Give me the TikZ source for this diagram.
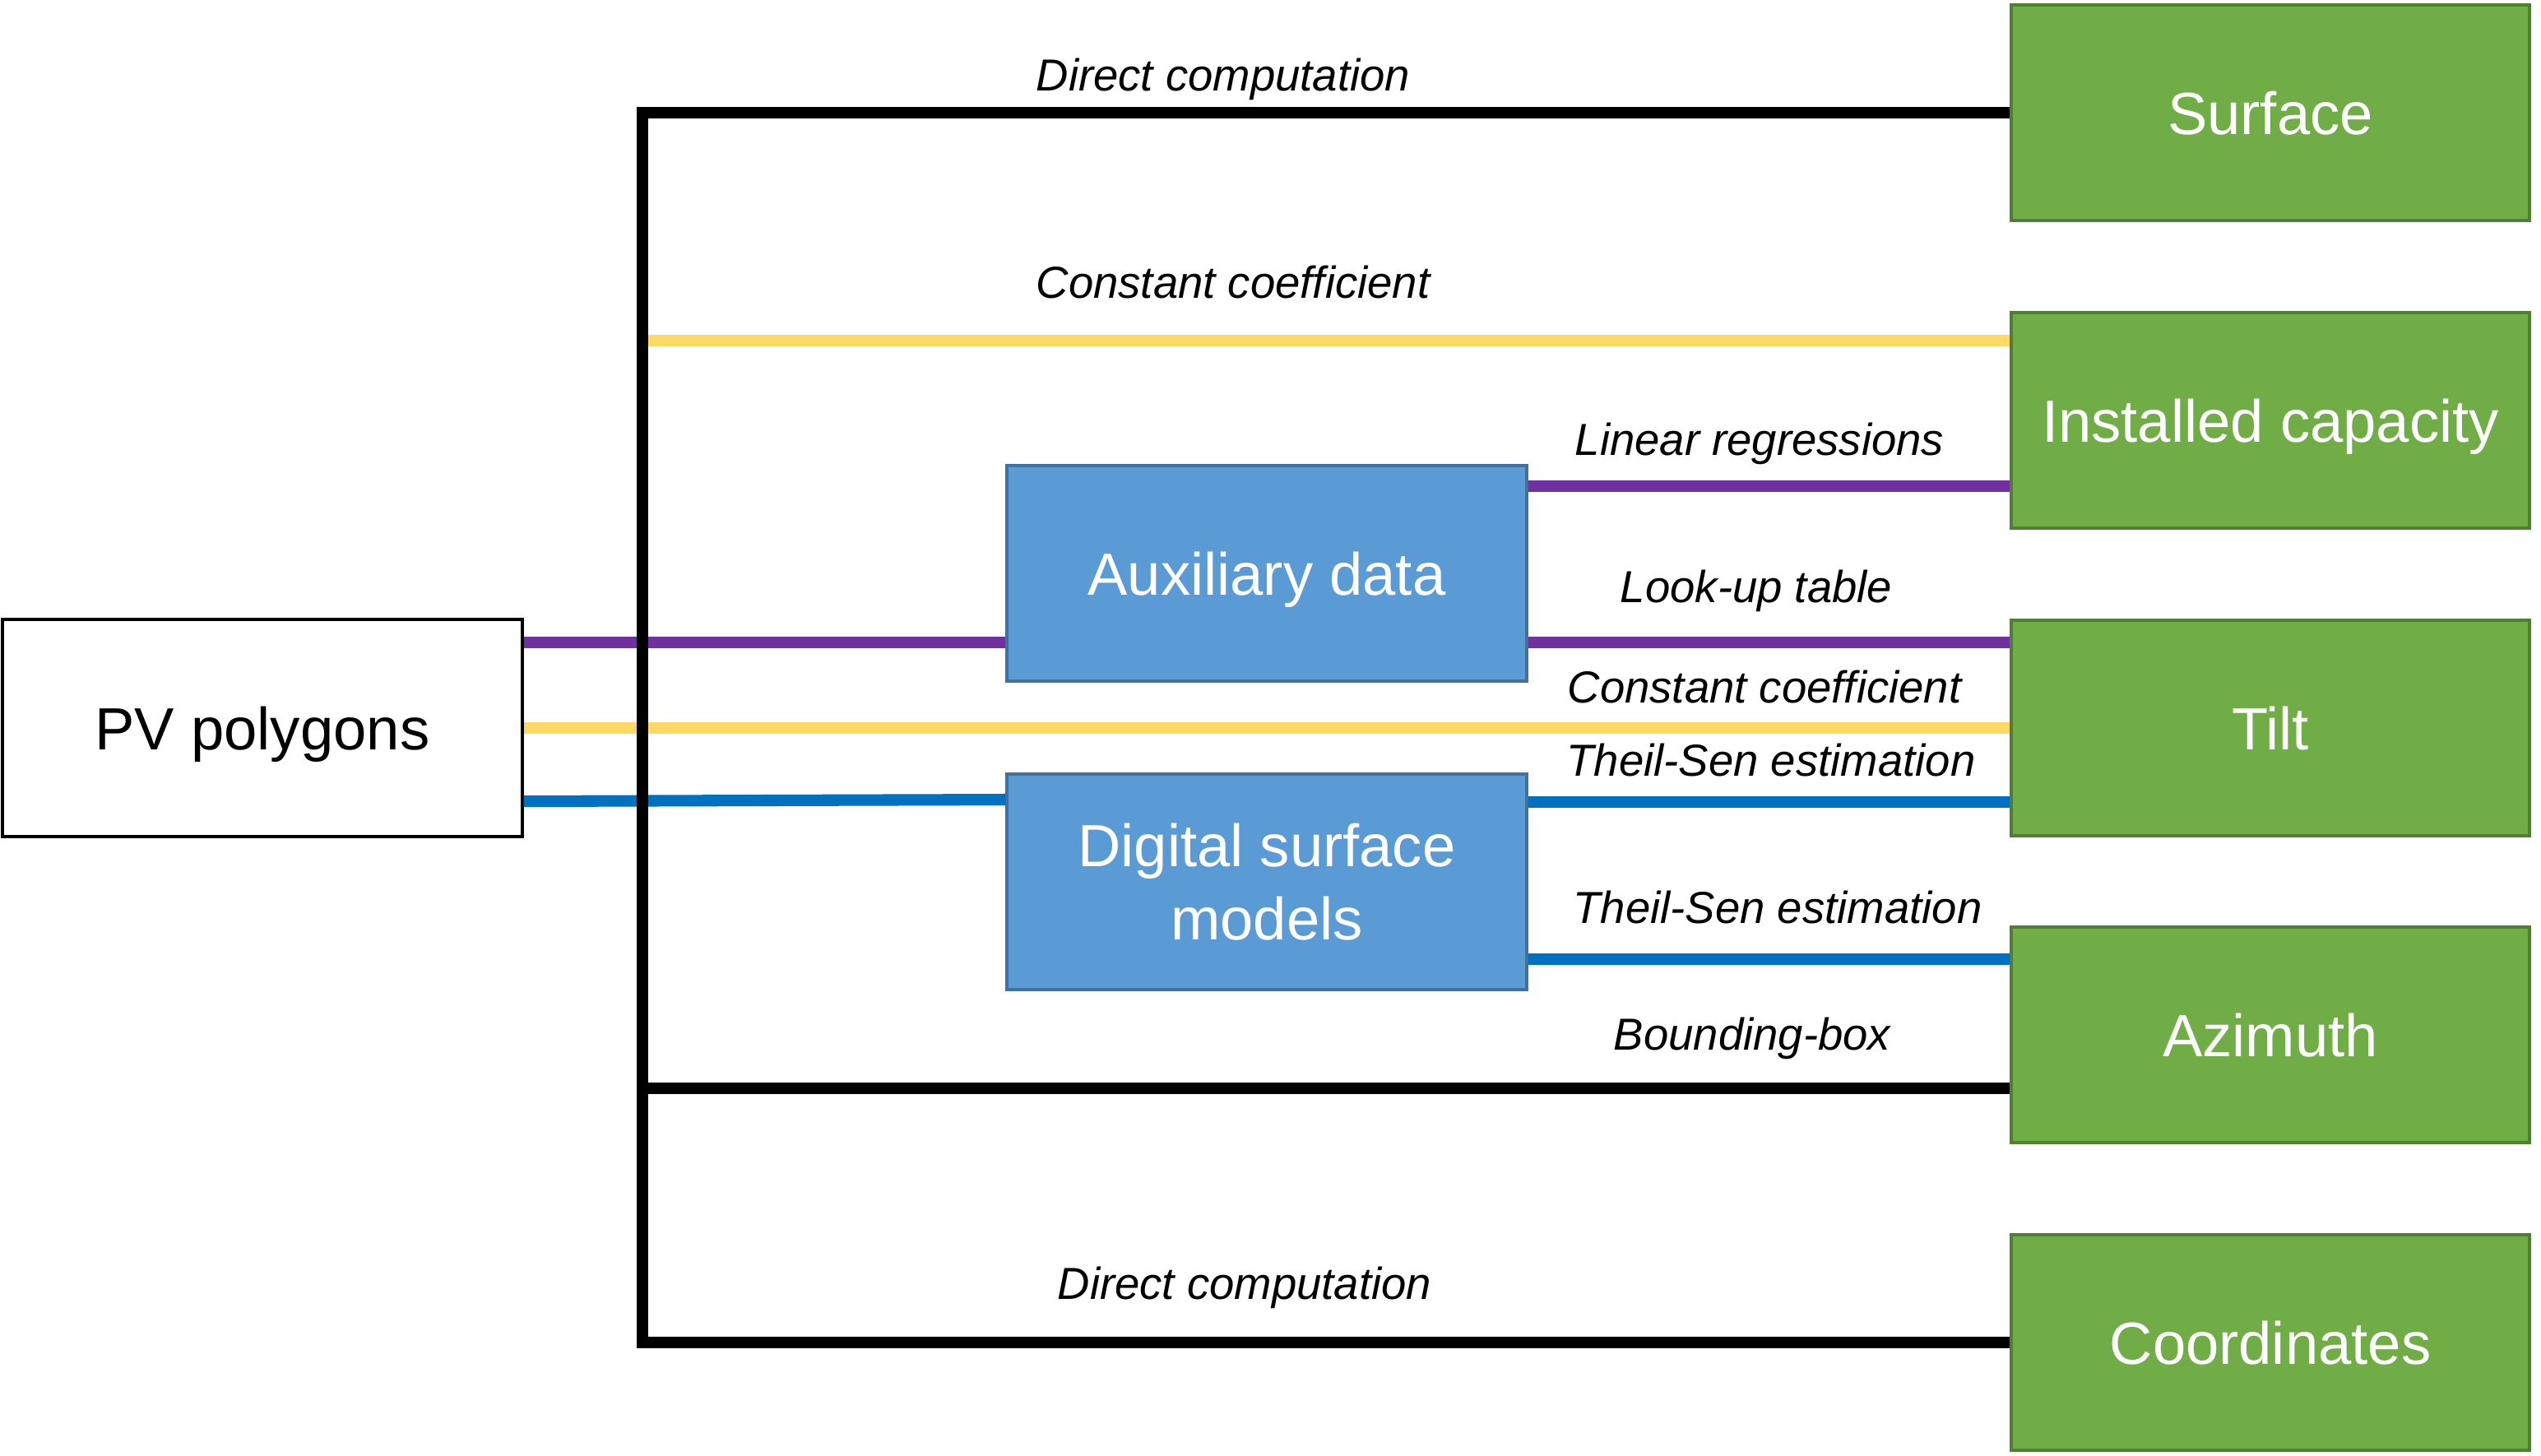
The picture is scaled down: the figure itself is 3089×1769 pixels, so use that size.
\documentclass[tikz,border=0pt]{standalone}
\usepackage{fontspec}
\setmainfont{Liberation Sans}
\definecolor{gfill}{HTML}{70AD47}
\definecolor{gdraw}{HTML}{507E32}
\definecolor{bfill}{HTML}{5B9BD5}
\definecolor{bdraw}{HTML}{41719C}
\definecolor{lpurple}{HTML}{7030A0}
\definecolor{lyellow}{HTML}{FFD966}
\definecolor{lblue}{HTML}{0070C0}
\tikzset{
  greenbox/.style={draw=gdraw, fill=gfill, line width=1.1pt, minimum width=6.3cm, minimum height=2.62cm, inner sep=0pt, text=white, text height=14.8pt, text depth=0pt, font=\fontsize{20.6}{24}\selectfont},
  bluebox/.style={draw=bdraw, fill=bfill, line width=1.1pt, minimum width=6.31cm, minimum height=2.62cm, inner sep=0pt, text=white, align=center, font=\fontsize{20.6}{25.3}\selectfont},
  whitebox/.style={draw=black, fill=white, line width=1.1pt, minimum width=6.31cm, minimum height=2.64cm, inner sep=0pt, text height=14.8pt, text depth=0pt, font=\fontsize{20.6}{24}\selectfont},
  blackline/.style={draw=black, line width=4pt},
  purpleline/.style={draw=lpurple, line width=4pt},
  yellowline/.style={draw=lyellow, line width=4pt},
  blueline/.style={draw=lblue, line width=4pt},
  lab/.style={font=\fontsize{15.5}{18}\selectfont\itshape, inner sep=0pt, text height=11.3pt, text depth=0pt}
}
\begin{document}
\begin{tikzpicture}[x=0.01cm, y=-0.01cm]
\useasboundingbox (0,0) rectangle (3089,1769);
% boxes
\node[whitebox] (pv) at (319,885) {PV polygons};
\node[bluebox, text height=14.8pt, text depth=0pt] (aux) at (1540,697) {Auxiliary data};
\node[bluebox] (dsm) at (1540,1072) {Digital surface\\models};
\node[greenbox] (surface) at (2760,137) {Surface};
\node[greenbox] (capacity) at (2760,511) {Installed capacity};
\node[greenbox] (tilt) at (2760,885) {Tilt};
\node[greenbox] (azimuth) at (2760,1258) {Azimuth};
\node[greenbox] (coords) at (2760,1632) {Coordinates};
\coordinate (spine) at (781,137);
% coloured connectors
\draw[purpleline] (pv.east |- 0,781) -- (aux.west |- 0,781);
\draw[purpleline] (aux.east |- 0,591) -- (capacity.west |- 0,591);
\draw[purpleline] (aux.east |- 0,781) -- (tilt.west |- 0,781);
\draw[yellowline] (spine |- 0,414) -- (capacity.west |- 0,414);
\draw[yellowline] (pv.east |- tilt.west) -- (tilt.west);
\draw[blueline] (pv.east |- 0,974) -- (dsm.west |- 0,972);
\draw[blueline] (dsm.east |- 0,975) -- (tilt.west |- 0,975);
\draw[blueline] (dsm.east |- 0,1166) -- (azimuth.west |- 0,1166);
% black connectors
\draw[blackline] (surface.west) -- (spine) -- (spine |- coords.west) -- (coords.west);
\draw[blackline] (spine |- 0,1323) -- (azimuth.west |- 0,1323);
% labels
\node[lab] (l1) at (1487,91) {Direct computation};
\node[lab] (l2) at (1499,343) {Constant coefficient};
\node[lab] (l3) at (2139,534) {Linear regressions};
\node[lab] (l4) at (2135,713) {Look-up table};
\node[lab] (l5) at (2145,835) {Constant coefficient};
\node[lab] (l6) at (2153,924) {Theil-Sen estimation};
\node[lab] (l7) at (2161,1103) {Theil-Sen estimation};
\node[lab] (l8) at (2130,1257) {Bounding-box};
\node[lab] (l9) at (1513,1560) {Direct computation};
\end{tikzpicture}
\end{document}
